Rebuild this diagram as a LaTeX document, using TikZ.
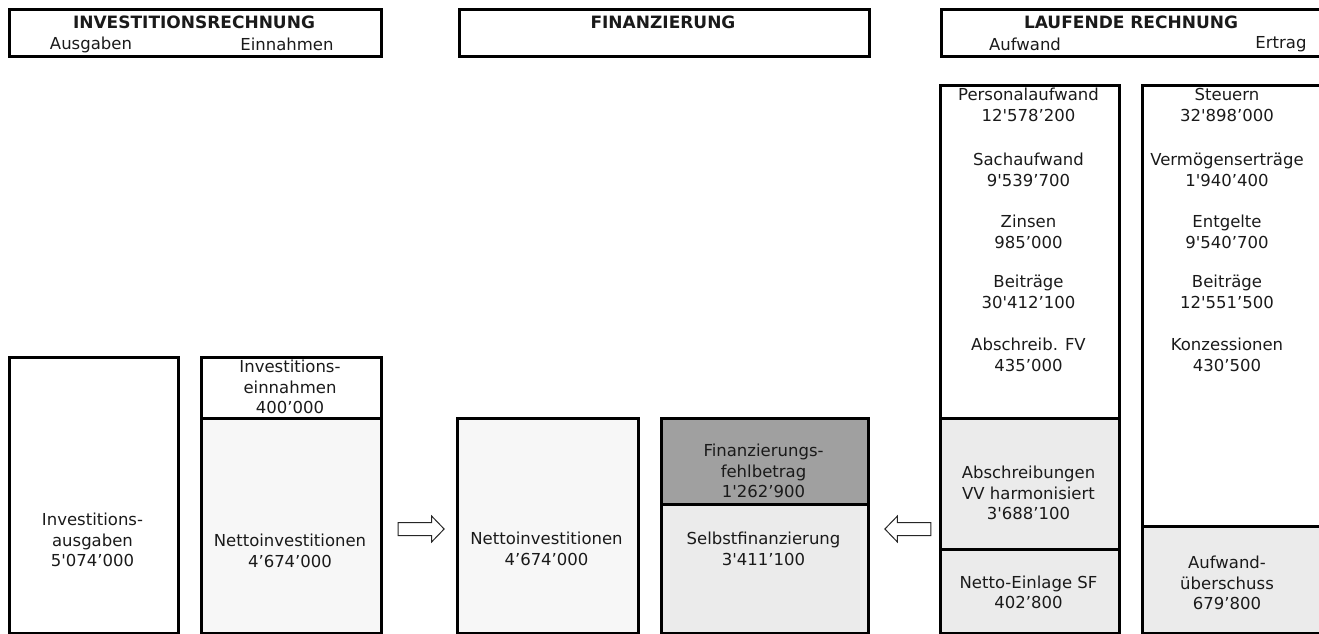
\documentclass[tikz,border=0pt]{standalone}
\usepackage{fontspec}
\newfontfamily\dv{DejaVu Sans}
\usetikzlibrary{shapes.arrows}
\definecolor{lightfill}{HTML}{F7F7F7}
\definecolor{midfill}{HTML}{EBEBEB}
\definecolor{darkfill}{HTML}{A0A0A0}
\definecolor{txtcol}{HTML}{1A1A1A}
\tikzset{
  box/.style={draw=black, line width=3pt, inner sep=0pt, anchor=north west},
  txt/.style={text=txtcol, align=center, inner sep=0pt, font=\dv\fontsize{16.5}{20.5}\selectfont},
  ttl/.style={text=txtcol, align=center, inner sep=0pt, font=\dv\bfseries\fontsize{17}{20}\selectfont},
  arrowshape/.style={single arrow, draw=black!85, fill=white, line width=1pt, inner sep=0pt,
    text height=12pt, text depth=0pt, text width=0pt,
    minimum height=46pt, single arrow head extend=6.5pt,
    single arrow tip angle=92}
}
\begin{document}
\begin{tikzpicture}[x=1pt,y=-1pt]
\useasboundingbox (0,0) rectangle (1319,634);
% headers
\node[box, minimum width=372, minimum height=47] (h1) at (8,8) {};
\node[ttl] (h1t) at (194,22) {INVESTITIONSRECHNUNG};
\node[txt] (h1a) at (91,44.5) {Ausgaben};
\node[txt] (h1b) at (287,44.5) {Einnahmen};
\node[box, minimum width=410, minimum height=47] (h2) at (458,8) {};
\node[ttl] (h2t) at (663,22) {FINANZIERUNG};
\node[box, minimum width=383, minimum height=47] (h3) at (940,8) {};
\node[ttl] (h3t) at (1131,22) {LAUFENDE RECHNUNG};
\node[txt] (h3a) at (1025,44.5) {Aufwand};
\node[txt] (h3b) at (1281,44.5) {Ertrag};
% investitionsrechnung
\node[box, minimum width=169, minimum height=276] (ia) at (8,356) {};
\node[txt] (iat) at (92.5,540) {Investitions-\\ausgaben\\5'074’000};
\node[box, minimum width=180, minimum height=61] (ie) at (200,356) {};
\node[txt] (iet) at (290,387) {Investitions-\\einnahmen\\400’000};
\node[box, fill=lightfill, minimum width=180, minimum height=215] (in) at (200,417) {};
\node[txt] (int) at (290,551) {Nettoinvestitionen\\4’674’000};
\node[arrowshape] (ar) at (418,529) {};
% finanzierung
\node[box, fill=lightfill, minimum width=181, minimum height=215] (fn) at (456,417) {};
\node[txt] (fnt) at (546.5,549) {Nettoinvestitionen\\4’674’000};
\node[box, fill=darkfill, minimum width=207, minimum height=86] (ff) at (660,417) {};
\node[txt] (fft) at (763.5,471) {Finanzierungs-\\fehlbetrag\\1'262’900};
\node[box, fill=midfill, minimum width=207, minimum height=129] (sf) at (660,503) {};
\node[txt] (sft) at (763.5,549) {Selbstfinanzierung\\3'411’100};
\node[arrowshape, shape border rotate=180] (al) at (911,529) {};
% laufende rechnung
\node[box, minimum width=179, minimum height=333] (aw) at (939,84) {};
\node[txt] (aw1) at (1028.5,105) {Personalaufwand\\12'578’200};
\node[txt] (aw2) at (1028.5,170) {Sachaufwand\\9'539’700};
\node[txt] (aw3) at (1028.5,232) {Zinsen\\985’000};
\node[txt] (aw4) at (1028.5,292) {Beiträge\\30'412’100};
\node[txt] (aw5) at (1028.5,355) {Abschreib. FV\\435’000};
\node[box, fill=midfill, minimum width=179, minimum height=131] (ab) at (939,417) {};
\node[txt] (abt) at (1028.5,493) {Abschreibungen\\VV harmonisiert\\3'688’100};
\node[box, fill=midfill, minimum width=179, minimum height=84] (ne) at (939,548) {};
\node[txt] (net) at (1028.5,592.5) {Netto-Einlage SF\\402’800};
\node[box, minimum width=182, minimum height=441] (er) at (1141,84) {};
\node[txt] (er1) at (1227,105) {Steuern\\32'898’000};
\node[txt] (er2) at (1227,170) {Vermögenserträge\\1'940’400};
\node[txt] (er3) at (1227,232) {Entgelte\\9'540’700};
\node[txt] (er4) at (1227,292) {Beiträge\\12'551’500};
\node[txt] (er5) at (1227,355) {Konzessionen\\430’500};
\node[box, fill=midfill, minimum width=182, minimum height=107] (au) at (1141,525) {};
\node[txt] (aut) at (1227,583) {Aufwand-\\überschuss\\679’800};
\end{tikzpicture}
\end{document}
